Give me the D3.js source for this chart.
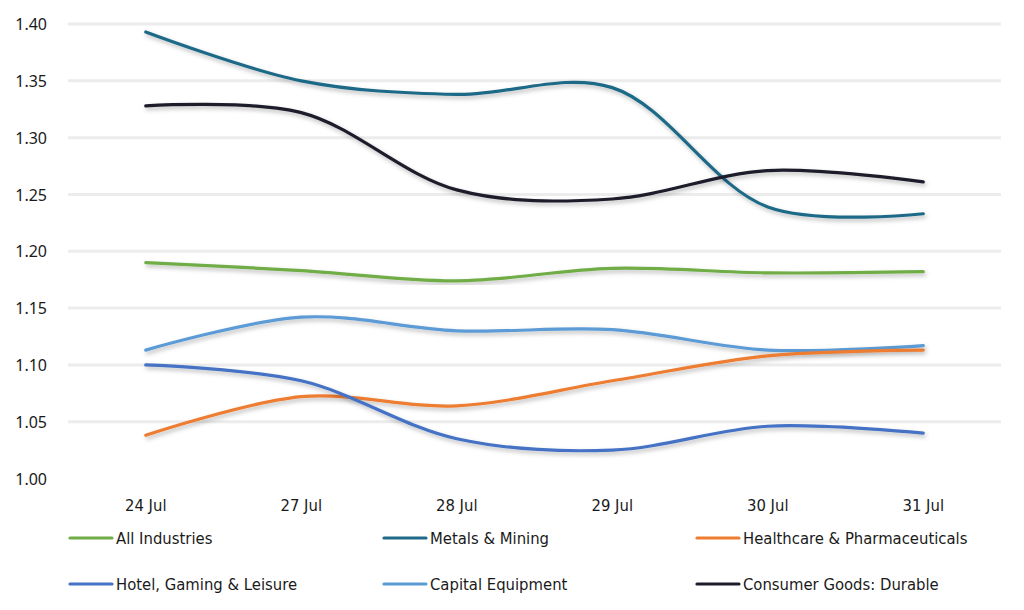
<!DOCTYPE html>
<html lang="en">
<head>
    <meta charset="UTF-8">
    <title>Industry index, 24-31 Jul</title>
    <script src="https://d3js.org/d3.v7.min.js"></script>
    <style>
        body {
            margin: 0;
            background-color: #ffffff;
        }
        svg text {
            fill: #1a1a1a;
        }
        .y-tick text {
            font-family: 'Noto Sans', 'Open Sans', sans-serif;
            font-size: 16px;
        }
        .x-tick text, .legend text {
            font-family: 'Liberation Sans Narrow', 'DejaVu Sans Condensed', sans-serif;
            font-size: 16.5px;
        }
    </style>
</head>
<body>
    <svg id="chart" width="1024" height="610"></svg>
    <script>
        const dates = ['24 Jul', '27 Jul', '28 Jul', '29 Jul', '30 Jul', '31 Jul'];
        const yTicks = [1.00, 1.05, 1.10, 1.15, 1.20, 1.25, 1.30, 1.35, 1.40];

        const seriesNames = [
            'All Industries', 'Metals & Mining', 'Healthcare & Pharmaceuticals',
            'Hotel, Gaming & Leisure', 'Capital Equipment', 'Consumer Goods: Durable'
        ];
        const allIndustries = [1.190, 1.183, 1.174, 1.185, 1.181, 1.182];
        const metalsMining = [1.393, 1.350, 1.338, 1.344, 1.239, 1.233];
        const healthcare = [1.038, 1.072, 1.064, 1.086, 1.108, 1.113];
        const hotelGaming = [1.100, 1.086, 1.035, 1.025, 1.046, 1.040];
        const capitalEquipment = [1.113, 1.142, 1.130, 1.131, 1.113, 1.117];
        const consumerDurable = [1.328, 1.322, 1.254, 1.246, 1.271, 1.261];

        const seriesColors = ['#70ad47', '#1f6a88', '#ed7d31', '#4472c4', '#5b9bd5', '#1c1c2b'];
        const seriesValues = [allIndustries, metalsMining, healthcare, hotelGaming, capitalEquipment, consumerDurable];

        const svg = d3.select('#chart');
        const plot = { left: 68, right: 1001, top: 24, bottom: 478.5 };

        const x = d3.scaleBand().domain(dates).range([plot.left, plot.right]);
        const y = d3.scaleLinear().domain([1.0, 1.4]).range([plot.bottom, plot.top]);

        // soft shadow under the lines, like the office chart
        const defs = svg.append('defs');
        const shadow = defs.append('filter').attr('id', 'shadow')
            .attr('x', '-5%').attr('y', '-20%').attr('width', '110%').attr('height', '140%');
        shadow.append('feDropShadow')
            .attr('dx', 1.5).attr('dy', 2.5).attr('stdDeviation', 2)
            .attr('flood-color', '#000').attr('flood-opacity', 0.28);

        // gridlines (none at 1.00)
        svg.append('g').selectAll('line')
            .data(yTicks.filter(d => d > 1.0))
            .enter().append('line')
            .attr('x1', plot.left).attr('x2', plot.right)
            .attr('y1', d => y(d)).attr('y2', d => y(d))
            .attr('stroke', '#ececec').attr('stroke-width', 3);

        // y labels
        const yAxis = d3.axisLeft(y).tickValues(yTicks).tickFormat(d3.format('.2f')).tickSize(0).tickPadding(0);
        svg.append('g')
            .attr('class', 'y-tick')
            .attr('transform', 'translate(47,0)')
            .call(yAxis)
            .call(g => g.select('.domain').remove())
            .call(g => g.selectAll('text').attr('dy', '0.35em'));

        // x labels
        const xAxis = d3.axisBottom(x).tickSize(0).tickPadding(0);
        svg.append('g')
            .attr('class', 'x-tick')
            .attr('transform', 'translate(0,499)')
            .call(xAxis)
            .call(g => g.select('.domain').remove())
            .call(g => g.selectAll('text').attr('dy', '0.71em'));

        const line = d3.line()
            .x((d, i) => x(dates[i]) + x.bandwidth() / 2)
            .y(d => y(d))
            .curve(d3.curveCatmullRom.alpha(0.5));

        const order = [1, 5, 0, 4, 2, 3];
        order.forEach(i => {
            svg.append('path')
                .datum(seriesValues[i])
                .attr('d', line)
                .attr('fill', 'none')
                .attr('stroke', seriesColors[i])
                .attr('stroke-width', 3.2)
                .attr('stroke-linecap', 'round')
                .attr('filter', 'url(#shadow)');
        });

        // legend, 3 columns x 2 rows
        const legendCols = [70, 384, 697];
        const legendRows = [538, 584];
        const legend = svg.append('g').attr('class', 'legend');
        seriesNames.forEach((name, i) => {
            const lx = legendCols[i % 3];
            const ly = legendRows[Math.floor(i / 3)];
            legend.append('line')
                .attr('x1', lx).attr('x2', lx + 42)
                .attr('y1', ly).attr('y2', ly)
                .attr('stroke', seriesColors[i])
                .attr('stroke-width', 3.2)
                .attr('stroke-linecap', 'round');
            legend.append('text')
                .attr('x', lx + 46).attr('y', ly)
                .attr('dy', '0.35em')
                .text(name);
        });
    </script>
</body>
</html>
